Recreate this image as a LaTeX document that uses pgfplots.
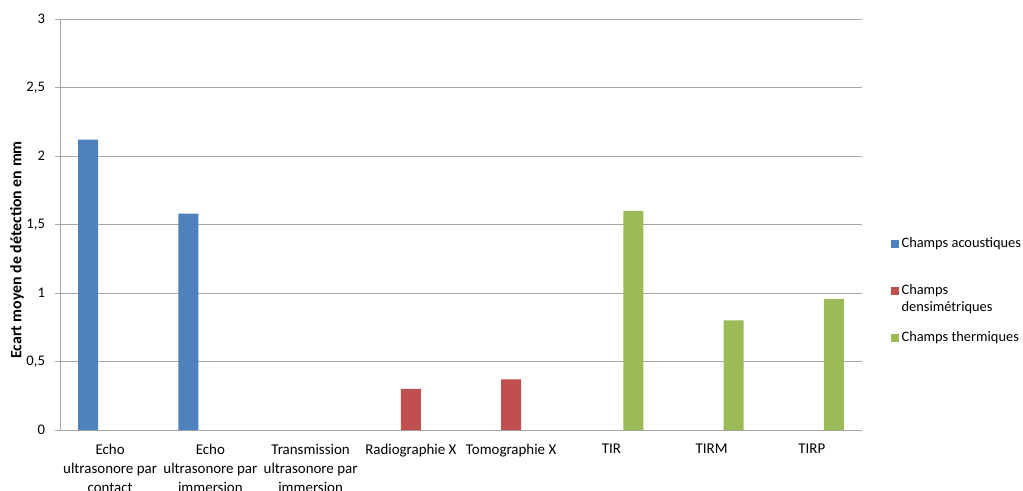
\documentclass[border=0pt]{standalone}
\usepackage{fontspec}
\setmainfont{Carlito}
\usepackage{pgfplots}
\pgfplotsset{compat=1.18}
\definecolor{cA}{HTML}{4F81BD}
\definecolor{cB}{HTML}{C0504D}
\definecolor{cC}{HTML}{9BBB59}
\definecolor{gridc}{HTML}{A6A6A6}
\begin{document}
\begin{tikzpicture}
\path[use as bounding box] (-45pt,-45pt) rectangle (722.25pt,322.5pt);
\begin{axis}[
  at={(0,0)}, anchor=south west,
  scale only axis, width=601.5pt, height=308.25pt,
  xmin=-0.5, xmax=7.5, ymin=0, ymax=3,
  axis x line*=bottom, axis y line*=left,
  axis line style={gridc, line width=0.75pt},
  ytick={0,0.5,1,1.5,2,2.5,3},
  yticklabels={0,{0,5},1,{1,5},2,{2,5},3},
  xtick={0,1,2,3,4,5,6,7},
  xticklabels={{Echo\\ultrasonore par\\contact},{Echo\\ultrasonore par\\immersion},{Transmission\\ultrasonore par\\immersion},{Radiographie X},{Tomographie X},{TIR},{TIRM},{TIRP}},
  xticklabel style={align=center, font=\fontsize{11.2}{14.25}\selectfont, anchor=north, yshift=-3.5pt},
  yticklabel style={font=\fontsize{11}{12}\selectfont, xshift=-4pt},
  ymajorgrids, grid style={gridc, line width=0.75pt},
  major x tick style={draw=none},
  major y tick style={gridc, line width=0.75pt},
  tick align=outside, major tick length=3.75pt,
  bar width=15pt,
  ylabel={Ecart moyen de détection en mm},
  ylabel style={at={([xshift=-32.25pt]axis description cs:0,0.438)}, anchor=center, font=\bfseries\fontsize{11.9}{14}\selectfont},
  legend cell align=left,
  legend image code/.code={\path[#1] (0pt,-3pt) rectangle (6pt,3pt);},
  legend style={at={(rel axis cs:1,0.339)}, anchor=west, xshift=21.5pt, draw=none, fill=none,
     inner sep=0pt, row sep=20.8pt, font=\fontsize{10.8}{12.75}\selectfont,
     nodes={text height=8pt, text depth=2.5pt}},
]
\addplot[ybar, fill=cA, draw=none, bar shift=-16.5pt] coordinates {(0,2.12) (1,1.58)};
\addlegendentry{Champs acoustiques}
\addplot[ybar, fill=cB, draw=none, bar shift=0pt] coordinates {(3,0.30) (4,0.37)};
\addlegendentry{\smash{\rlap{\raisebox{-12.75pt}{densimétriques}}}Champs}
\addplot[ybar, fill=cC, draw=none, bar shift=16.5pt] coordinates {(5,1.60) (6,0.80) (7,0.955)};
\addlegendentry{Champs thermiques}
\end{axis}
\end{tikzpicture}
\end{document}
